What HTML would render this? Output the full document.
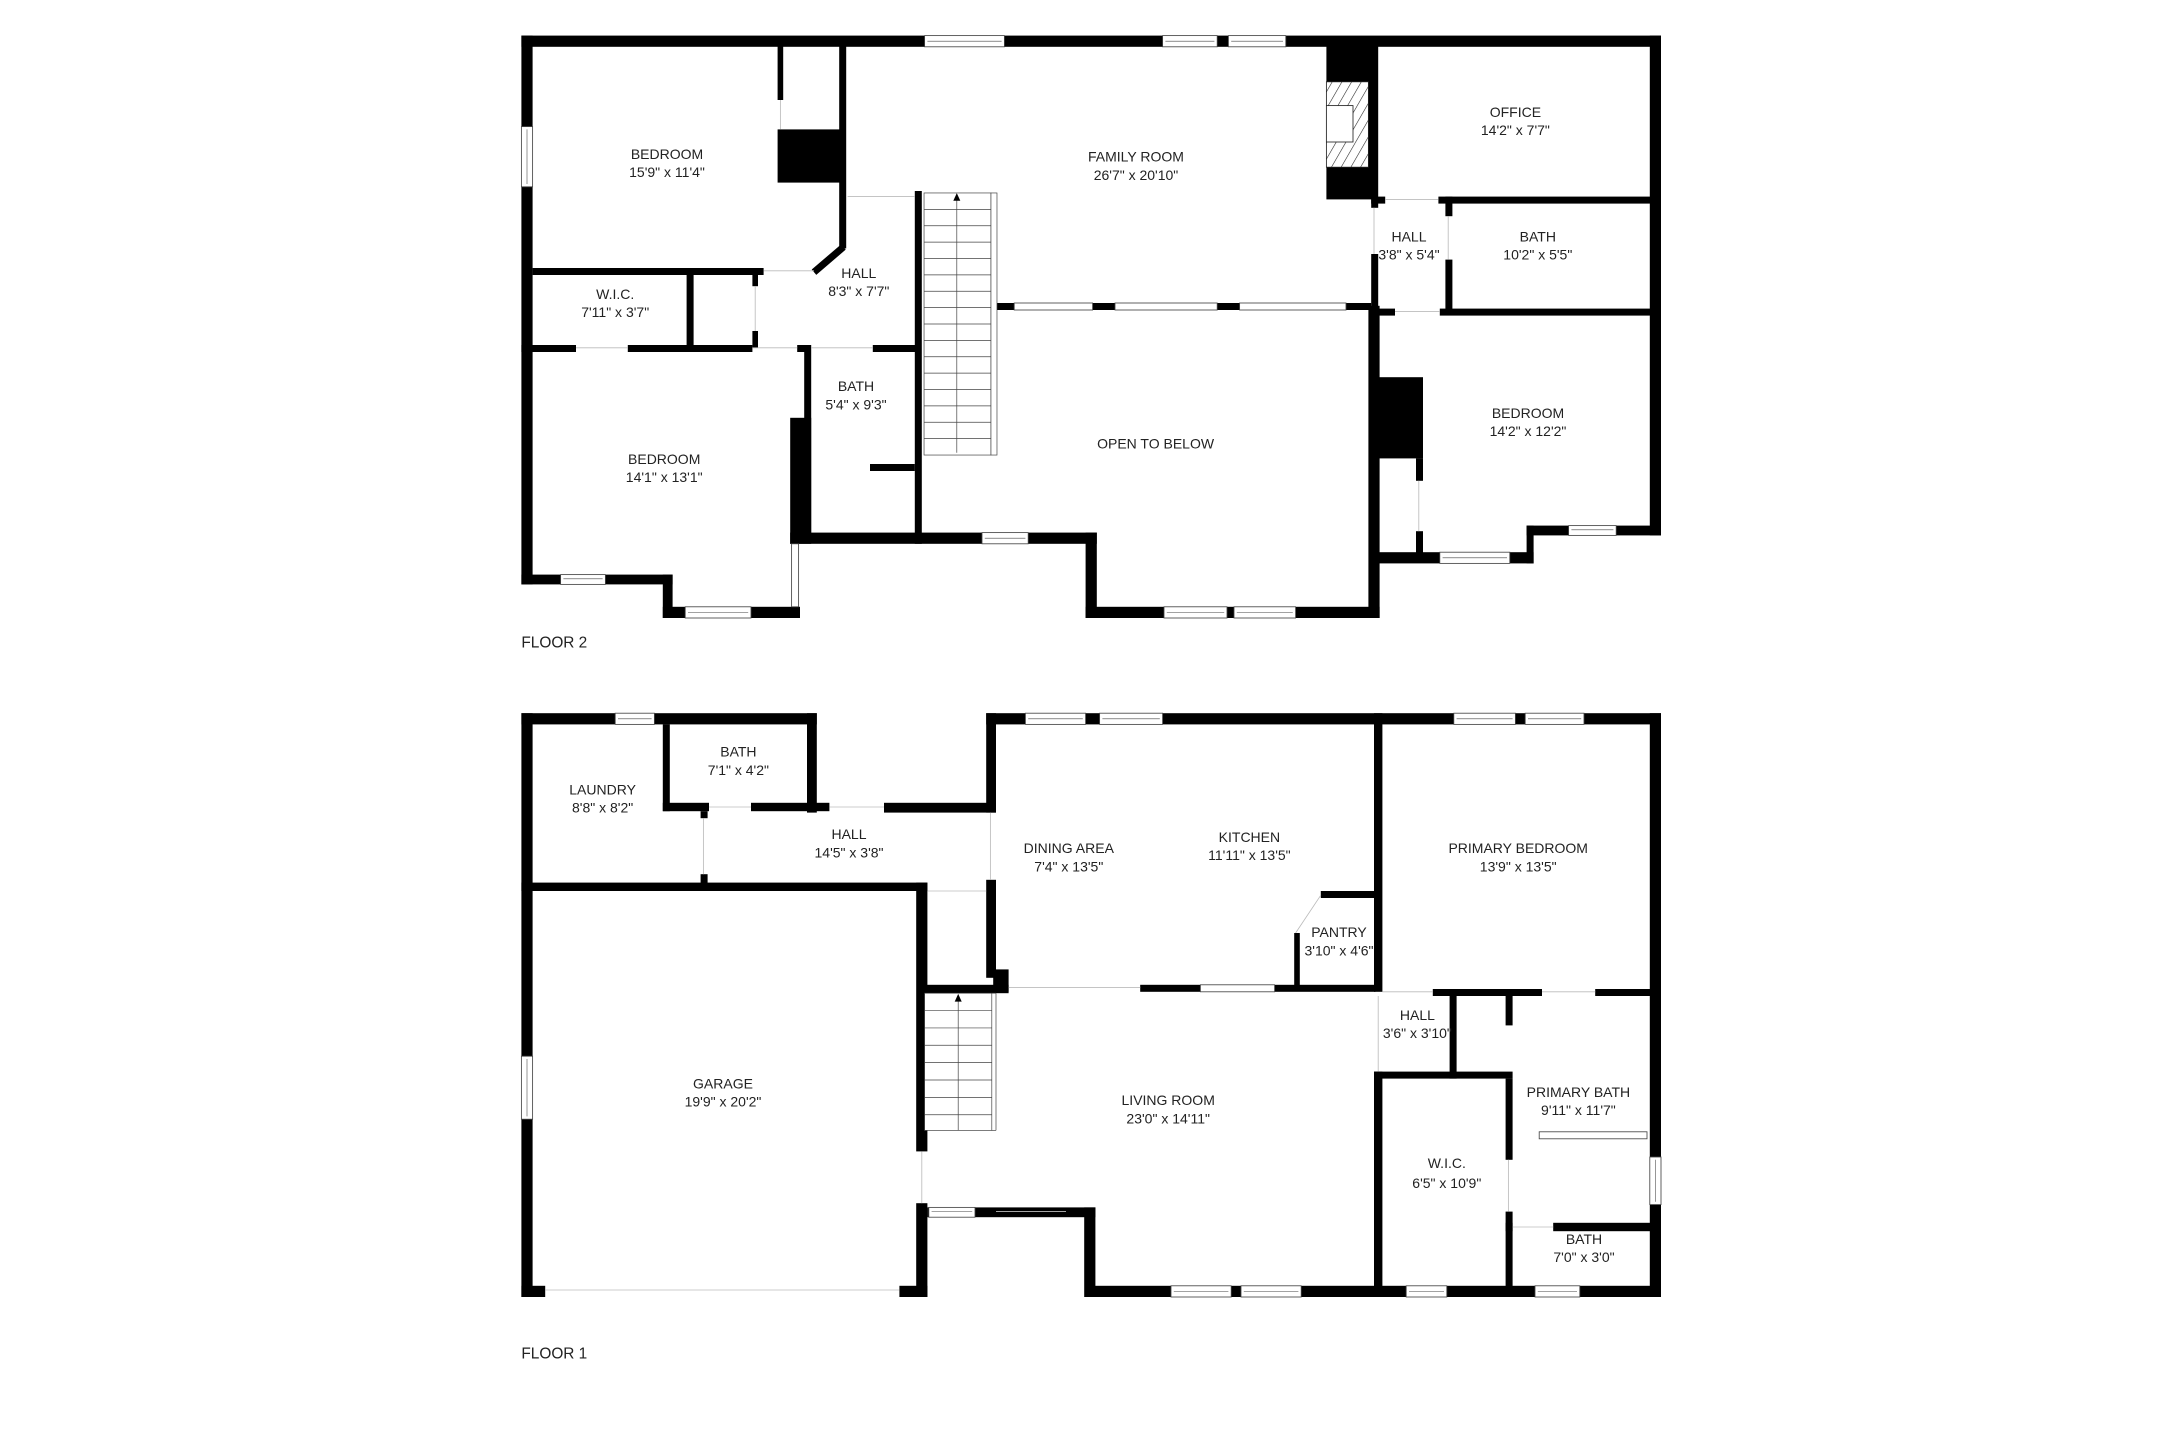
<!DOCTYPE html>
<html><head><meta charset="utf-8"><style>
html,body{margin:0;padding:0;background:#fff;}
svg{display:block;}
text{font-family:"Liberation Sans",Arial,sans-serif;fill:#222;}
</style></head><body>
<svg width="2182" height="1441" viewBox="0 0 2182 1441" xmlns="http://www.w3.org/2000/svg">
<rect width="2182" height="1441" fill="#fff"/>
<defs>
<pattern id="hatch" patternUnits="userSpaceOnUse" width="6" height="6" patternTransform="rotate(30)">
<rect width="6" height="6" fill="#fff"/><line x1="0" y1="0" x2="0" y2="6" stroke="#222" stroke-width="0.8"/>
</pattern>
</defs>
<g transform="translate(-5,-5) scale(1.4)">
<g fill="#000">
<!-- ================= FLOOR 2 ================= -->
<rect x="376" y="29" width="814" height="8"/>
<rect x="376" y="29" width="8" height="392"/>
<rect x="1182" y="29" width="8" height="357"/>
<rect x="559" y="36" width="4" height="39"/>
<rect x="559" y="96" width="47" height="38"/>
<rect x="603" y="36" width="5" height="145"/>
<rect x="384" y="195" width="165" height="5"/>
<rect x="494" y="200" width="5" height="52"/>
<rect x="541" y="198" width="4" height="10"/>
<rect x="541" y="240" width="4" height="12"/>
<rect x="376" y="250" width="39" height="5"/>
<rect x="452" y="250" width="89" height="5"/>
<rect x="573" y="250" width="8" height="5"/>
<rect x="627" y="250" width="34" height="5"/>
<rect x="578" y="250" width="5" height="140"/>
<rect x="568" y="302" width="15" height="90"/>
<rect x="625" y="335" width="32" height="5"/>
<rect x="657" y="140" width="5" height="252"/>
<rect x="568" y="384" width="219" height="8"/>
<rect x="779" y="384" width="8" height="61"/>
<rect x="779" y="437" width="210" height="8"/>
<rect x="981" y="222" width="8" height="223"/>
<rect x="376" y="414" width="108" height="7"/>
<rect x="477" y="414" width="7" height="31"/>
<rect x="477" y="437" width="98" height="8"/>
<rect x="712" y="220" width="16" height="5"/>
<rect x="784" y="220" width="16" height="5"/>
<rect x="873" y="220" width="16" height="5"/>
<rect x="965" y="220" width="18" height="5"/>
<rect x="951" y="36" width="33" height="110"/>
<rect x="983" y="36" width="5" height="116"/>
<rect x="983" y="185" width="5" height="40"/>
<rect x="983" y="144" width="10" height="5"/>
<rect x="1031" y="144" width="159" height="5"/>
<rect x="1036" y="144" width="5" height="14"/>
<rect x="1036" y="189" width="5" height="39"/>
<rect x="983" y="224" width="17" height="5"/>
<rect x="1032" y="224" width="158" height="5"/>
<rect x="984" y="273" width="36" height="58"/>
<rect x="1015" y="331" width="5" height="16"/>
<rect x="1015" y="383" width="5" height="17"/>
<rect x="983" y="398" width="116" height="8"/>
<rect x="1094" y="379" width="5" height="27"/>
<rect x="1094" y="379" width="96" height="7"/>
<!-- ================= FLOOR 1 ================= -->
<rect x="376" y="513" width="211" height="8"/>
<rect x="376" y="513" width="8" height="417"/>
<rect x="477" y="521" width="5" height="62"/>
<rect x="580" y="513" width="7" height="71"/>
<rect x="477" y="577" width="33" height="6"/>
<rect x="540" y="577" width="56" height="6"/>
<rect x="635" y="577" width="80" height="7"/>
<rect x="708" y="513" width="7" height="71"/>
<rect x="708" y="632" width="7" height="70"/>
<rect x="713" y="696" width="11" height="16"/>
<rect x="504" y="583" width="5" height="5"/>
<rect x="504" y="628" width="5" height="7"/>
<rect x="376" y="634" width="290" height="6"/>
<rect x="658" y="634" width="8" height="192"/>
<rect x="658" y="863" width="8" height="67"/>
<rect x="376" y="922" width="17" height="8"/>
<rect x="646" y="922" width="20" height="8"/>
<rect x="664" y="707" width="60" height="6"/>
<rect x="818" y="707" width="43" height="5"/>
<rect x="914" y="707" width="72" height="5"/>
<rect x="947" y="640" width="39" height="5"/>
<rect x="928" y="670" width="4" height="40"/>
<rect x="708" y="513" width="482" height="8"/>
<rect x="985" y="513" width="6" height="199"/>
<rect x="985" y="769" width="6" height="161"/>
<rect x="1182" y="513" width="8" height="417"/>
<rect x="1027" y="710" width="78" height="5"/>
<rect x="1143" y="710" width="47" height="5"/>
<rect x="1079" y="715" width="5" height="21"/>
<rect x="1039" y="715" width="5" height="59"/>
<rect x="985" y="769" width="99" height="5"/>
<rect x="1079" y="774" width="5" height="58"/>
<rect x="1079" y="869" width="5" height="60"/>
<rect x="1079" y="877" width="5" height="6"/>
<rect x="1113" y="877" width="70" height="6"/>
<rect x="780" y="922" width="410" height="8"/>
<rect x="778" y="866" width="8" height="64"/>
<rect x="666" y="866" width="120" height="7"/>
</g>
<line x1="606" y1="180" x2="585" y2="198" stroke="#000" stroke-width="5"/>
<rect x="951" y="62" width="30" height="61" fill="url(#hatch)" stroke="#222" stroke-width="0.6"/>
<rect x="951" y="79" width="19" height="26" fill="#fff" stroke="#222" stroke-width="0.6"/>
<g fill="#fff" stroke="#444" stroke-width="0.6">
<rect x="664" y="29" width="57" height="8"/>
<rect x="834" y="29" width="39" height="8"/>
<rect x="881" y="29" width="41" height="8"/>
<rect x="376" y="94" width="8" height="43"/>
<rect x="705" y="384" width="33" height="8"/>
<rect x="835" y="437" width="45" height="8"/>
<rect x="885" y="437" width="44" height="8"/>
<rect x="404" y="414" width="32" height="7"/>
<rect x="493" y="437" width="47" height="8"/>
<rect x="728" y="220" width="56" height="5"/>
<rect x="800" y="220" width="73" height="5"/>
<rect x="889" y="220" width="76" height="5"/>
<rect x="1032" y="398" width="50" height="8"/>
<rect x="1124" y="379" width="34" height="7"/>
<rect x="443" y="513" width="28" height="8"/>
<rect x="376" y="758" width="8" height="45"/>
<rect x="861" y="707" width="53" height="5"/>
<rect x="736" y="513" width="43" height="8"/>
<rect x="789" y="513" width="45" height="8"/>
<rect x="1042" y="513" width="44" height="8"/>
<rect x="1093" y="513" width="42" height="8"/>
<rect x="1182" y="830" width="8" height="34"/>
<rect x="840" y="922" width="43" height="8"/>
<rect x="890" y="922" width="43" height="8"/>
<rect x="1008" y="922" width="29" height="8"/>
<rect x="1100" y="922" width="32" height="8"/>
<rect x="667" y="866" width="33" height="7"/>
<rect x="569" y="392" width="5" height="45"/>
<rect x="1103" y="812" width="77" height="5"/>
</g>
<g stroke="#444" stroke-width="0.4">
<line x1="666" y1="33" x2="719" y2="33"/><line x1="836" y1="33" x2="871" y2="33"/><line x1="883" y1="33" x2="920" y2="33"/>
<line x1="380" y1="96" x2="380" y2="135"/><line x1="707" y1="388" x2="736" y2="388"/>
<line x1="837" y1="441" x2="878" y2="441"/><line x1="887" y1="441" x2="927" y2="441"/>
<line x1="406" y1="417" x2="434" y2="417"/><line x1="495" y1="441" x2="538" y2="441"/>
<line x1="1034" y1="402" x2="1080" y2="402"/><line x1="1126" y1="382" x2="1156" y2="382"/>
<line x1="445" y1="517" x2="469" y2="517"/><line x1="380" y1="760" x2="380" y2="801"/>
<line x1="738" y1="517" x2="777" y2="517"/><line x1="791" y1="517" x2="832" y2="517"/>
<line x1="1044" y1="517" x2="1084" y2="517"/><line x1="1095" y1="517" x2="1133" y2="517"/>
<line x1="1186" y1="832" x2="1186" y2="862"/>
<line x1="842" y1="926" x2="881" y2="926"/><line x1="892" y1="926" x2="931" y2="926"/>
<line x1="1010" y1="926" x2="1035" y2="926"/><line x1="1102" y1="926" x2="1130" y2="926"/>
<line x1="669" y1="869" x2="698" y2="869"/>
</g>
<g stroke="#bbb" stroke-width="0.6" fill="none">
<line x1="609" y1="144" x2="657" y2="144"/>
<line x1="415" y1="252" x2="452" y2="252"/>
<line x1="541" y1="252" x2="573" y2="252"/>
<line x1="583" y1="252" x2="627" y2="252"/>
<line x1="543" y1="208" x2="543" y2="240"/>
<line x1="549" y1="197" x2="585" y2="197"/>
<line x1="561" y1="75" x2="561" y2="96"/>
<line x1="993" y1="146" x2="1031" y2="146"/>
<line x1="985" y1="152" x2="985" y2="185"/>
<line x1="1038" y1="158" x2="1038" y2="189"/>
<line x1="1000" y1="226" x2="1032" y2="226"/>
<line x1="1017" y1="347" x2="1017" y2="383"/>
<line x1="510" y1="580" x2="540" y2="580"/>
<line x1="596" y1="580" x2="635" y2="580"/>
<line x1="506" y1="588" x2="506" y2="628"/>
<line x1="711" y1="584" x2="711" y2="632"/>
<line x1="666" y1="640" x2="708" y2="640"/>
<line x1="393" y1="925" x2="646" y2="925"/>
<line x1="662" y1="826" x2="662" y2="863"/>
<line x1="724" y1="709" x2="818" y2="709"/>
<line x1="947" y1="643" x2="929" y2="670"/>
<line x1="991" y1="712" x2="1027" y2="712"/>
<line x1="1105" y1="712" x2="1143" y2="712"/>
<line x1="988" y1="715" x2="988" y2="769"/>
<line x1="1081" y1="832" x2="1081" y2="869"/>
<line x1="1084" y1="880" x2="1113" y2="880"/>
<line x1="715" y1="869" x2="765" y2="869"/>
</g>
<g stroke="#444" stroke-width="0.5" fill="none">
<rect x="663.6" y="141.4" width="47.8" height="187.2" fill="#fff"/>
<rect x="711.4" y="141.4" width="4.3" height="187.2" fill="#fff"/>
<line x1="663.6" y1="153.1" x2="711.4" y2="153.1"/><line x1="663.6" y1="164.8" x2="711.4" y2="164.8"/>
<line x1="663.6" y1="176.5" x2="711.4" y2="176.5"/><line x1="663.6" y1="188.2" x2="711.4" y2="188.2"/>
<line x1="663.6" y1="199.9" x2="711.4" y2="199.9"/><line x1="663.6" y1="211.6" x2="711.4" y2="211.6"/>
<line x1="663.6" y1="223.3" x2="711.4" y2="223.3"/><line x1="663.6" y1="235.0" x2="711.4" y2="235.0"/>
<line x1="663.6" y1="246.7" x2="711.4" y2="246.7"/><line x1="663.6" y1="258.4" x2="711.4" y2="258.4"/>
<line x1="663.6" y1="270.1" x2="711.4" y2="270.1"/><line x1="663.6" y1="281.8" x2="711.4" y2="281.8"/>
<line x1="663.6" y1="293.5" x2="711.4" y2="293.5"/><line x1="663.6" y1="305.2" x2="711.4" y2="305.2"/>
<line x1="663.6" y1="316.9" x2="711.4" y2="316.9"/>
<line x1="687" y1="146" x2="687" y2="327"/>
<rect x="664" y="713" width="48" height="98" fill="#fff"/>
<line x1="712" y1="713" x2="715" y2="713"/><line x1="715" y1="713" x2="715" y2="811"/><line x1="712" y1="811" x2="715" y2="811"/>
<line x1="664" y1="725.4" x2="712" y2="725.4"/><line x1="664" y1="737.8" x2="712" y2="737.8"/>
<line x1="664" y1="750.2" x2="712" y2="750.2"/><line x1="664" y1="762.6" x2="712" y2="762.6"/>
<line x1="664" y1="775" x2="712" y2="775"/><line x1="664" y1="787.4" x2="712" y2="787.4"/>
<line x1="664" y1="799.8" x2="712" y2="799.8"/>
<line x1="688" y1="718" x2="688" y2="811"/>
</g>
<polygon points="687,141.5 684.5,147 689.5,147" fill="#000"/>
<polygon points="688,713.5 685.5,719 690.5,719" fill="#000"/>
<g font-size="10" text-anchor="middle">
<text x="480" y="117">BEDROOM</text><text x="480" y="130">15'9" x 11'4"</text>
<text x="815" y="119">FAMILY ROOM</text><text x="815" y="132">26'7" x 20'10"</text>
<text x="1086" y="87">OFFICE</text><text x="1086" y="100">14'2" x 7'7"</text>
<text x="1010" y="176">HALL</text><text x="1010" y="189">3'8" x 5'4"</text>
<text x="1102" y="176">BATH</text><text x="1102" y="189">10'2" x 5'5"</text>
<text x="443" y="217">W.I.C.</text><text x="443" y="230">7'11" x 3'7"</text>
<text x="617" y="202">HALL</text><text x="617" y="215">8'3" x 7'7"</text>
<text x="615" y="283">BATH</text><text x="615" y="296">5'4" x 9'3"</text>
<text x="478" y="335">BEDROOM</text><text x="478" y="348">14'1" x 13'1"</text>
<text x="829" y="324">OPEN TO BELOW</text>
<text x="1095" y="302">BEDROOM</text><text x="1095" y="315">14'2" x 12'2"</text>
<text x="434" y="571">LAUNDRY</text><text x="434" y="584">8'8" x 8'2"</text>
<text x="531" y="544">BATH</text><text x="531" y="557">7'1" x 4'2"</text>
<text x="610" y="603">HALL</text><text x="610" y="616">14'5" x 3'8"</text>
<text x="767" y="613">DINING AREA</text><text x="767" y="626">7'4" x 13'5"</text>
<text x="896" y="605">KITCHEN</text><text x="896" y="618">11'11" x 13'5"</text>
<text x="960" y="673">PANTRY</text><text x="960" y="686">3'10" x 4'6"</text>
<text x="1088" y="613">PRIMARY BEDROOM</text><text x="1088" y="626">13'9" x 13'5"</text>
<text x="1016" y="732">HALL</text><text x="1016" y="745">3'6" x 3'10"</text>
<text x="1131" y="787">PRIMARY BATH</text><text x="1131" y="800">9'11" x 11'7"</text>
<text x="520" y="781">GARAGE</text><text x="520" y="794">19'9" x 20'2"</text>
<text x="838" y="793">LIVING ROOM</text><text x="838" y="806">23'0" x 14'11"</text>
<text x="1037" y="838">W.I.C.</text><text x="1037" y="852">6'5" x 10'9"</text>
<text x="1135" y="892">BATH</text><text x="1135" y="905">7'0" x 3'0"</text>
</g>
<g font-size="11">
<text x="376" y="466">FLOOR 2</text>
<text x="376" y="974">FLOOR 1</text>
</g>
</g>
</svg>
</body></html>
